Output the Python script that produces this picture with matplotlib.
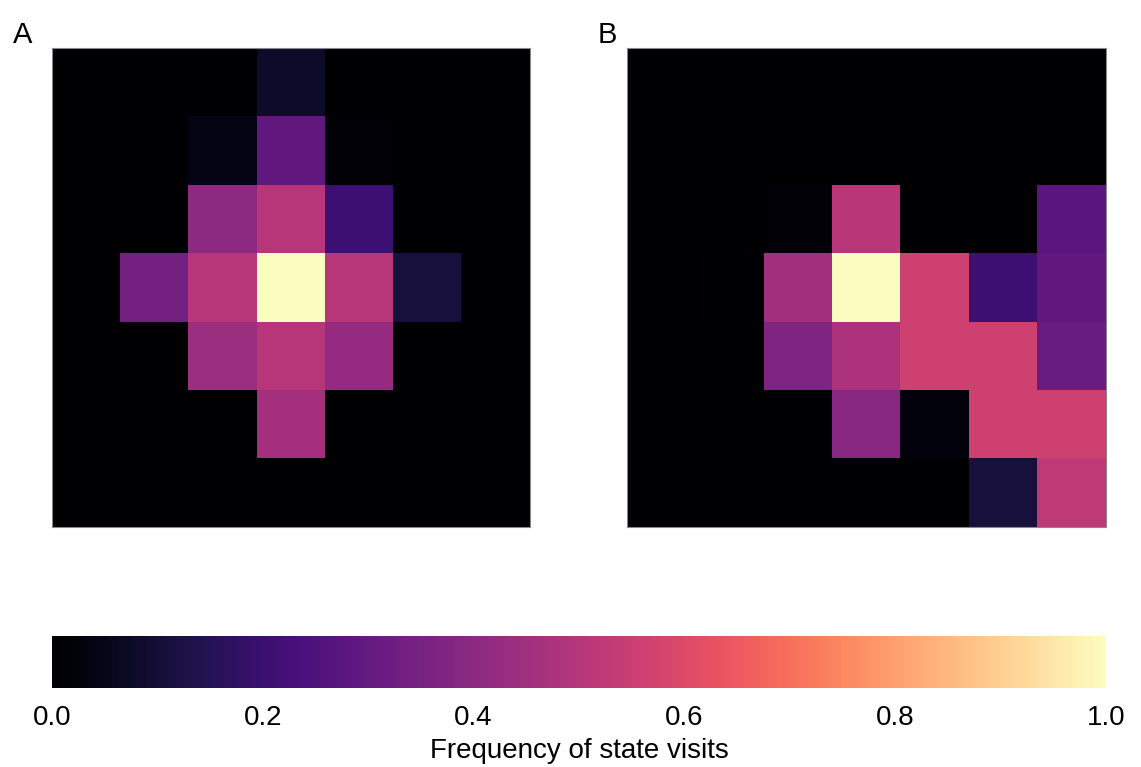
import numpy as np
import matplotlib
matplotlib.use("Agg")
import matplotlib.pyplot as plt

plt.rcParams['font.family'] = ['Liberation Sans', 'DejaVu Sans']

# visit frequencies on the 7x7 grid
freq_a = np.array([
    [0, 0, 0,    0.08, 0,     0,    0],
    [0, 0, 0.04, 0.29, 0.015, 0,    0],
    [0, 0, 0.40, 0.50, 0.21,  0,    0],
    [0, 0.34, 0.50, 1.00, 0.50, 0.11, 0],
    [0, 0, 0.44, 0.50, 0.42,  0,    0],
    [0, 0, 0,    0.46, 0,     0,    0],
    [0, 0, 0,    0,    0,     0,    0],
])
freq_b = np.array([
    [0, 0,     0,    0,    0,     0,    0],
    [0, 0,     0,    0,    0,     0,    0],
    [0, 0,     0.01, 0.51, 0,     0,    0.28],
    [0, 0.005, 0.45, 1.00, 0.56,  0.21, 0.29],
    [0, 0,     0.37, 0.48, 0.56,  0.56, 0.31],
    [0, 0,     0,    0.39, 0.025, 0.56, 0.56],
    [0, 0,     0,    0,    0,     0.11, 0.52],
])
panels = ['A', 'B']
cbar_ticks = [0.0, 0.2, 0.4, 0.6, 0.8, 1.0]

fig = plt.figure(figsize=(11.41, 7.67), dpi=100)
ax_a = fig.add_axes([0.0456, 0.3129, 0.4189, 0.6245])
ax_b = fig.add_axes([0.5495, 0.3129, 0.4198, 0.6245])
cax = fig.add_axes([0.0456, 0.103, 0.9237, 0.0678])

for ax, data, name, lx in zip([ax_a, ax_b], [freq_a, freq_b], panels, [0.011, 0.524]):
    im = ax.imshow(data, cmap='magma', vmin=0, vmax=1, aspect='auto',
                   interpolation='nearest')
    ax.set_xticks([])
    ax.set_yticks([])
    for s in ax.spines.values():
        s.set_edgecolor('#888888')
        s.set_linewidth(0.8)
    fig.text(lx, 0.955, name, fontsize=21, ha='left', va='center')

cb = fig.colorbar(im, cax=cax, orientation='horizontal', ticks=cbar_ticks)
cb.outline.set_visible(False)
cb.ax.tick_params(length=0, labelsize=20, pad=12)
cb.set_label('Frequency of state visits', fontsize=20, labelpad=5)

fig.savefig('out.png', dpi=100)
